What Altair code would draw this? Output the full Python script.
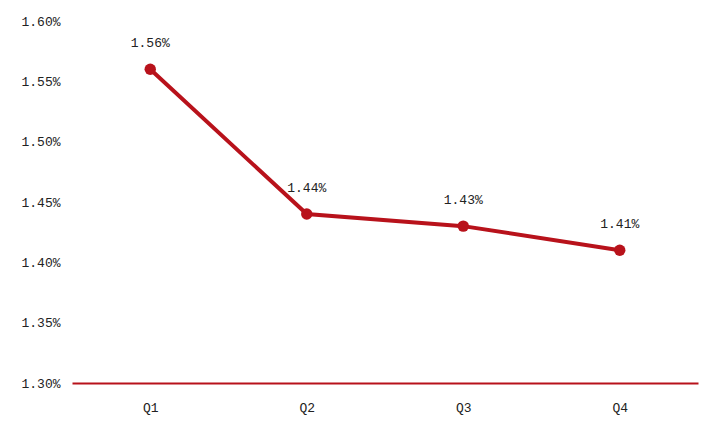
import altair as alt
import pandas as pd

quarters = ["Q1", "Q2", "Q3", "Q4"]
values = [1.56, 1.44, 1.43, 1.41]
labels = ["1.56%", "1.44%", "1.43%", "1.41%"]

df = pd.DataFrame({"q": quarters, "v": values, "label": labels})

RED = "#B8121B"
FONT = "Liberation Mono"

x = alt.X("q:N", sort=quarters, title=None,
          scale=alt.Scale(paddingInner=0, paddingOuter=0),
          axis=alt.Axis(labelAngle=0, ticks=False, domainColor=RED, domainWidth=2,
                        labelPadding=18, labelFont=FONT, labelFontSize=13, labelColor="#222"))
y = alt.Y("v:Q", title=None,
          scale=alt.Scale(domain=[1.30, 1.60], nice=False, zero=False),
          axis=alt.Axis(values=[1.30, 1.35, 1.40, 1.45, 1.50, 1.55, 1.60],
                        labelExpr="format(datum.value, '.2f') + '%'",
                        grid=False, ticks=False, domain=False, labelPadding=12,
                        labelFont=FONT, labelFontSize=13, labelColor="#222"))

base = alt.Chart(df).encode(x=x, y=y)
line = base.mark_line(color=RED, strokeWidth=4)
pts = base.mark_point(filled=True, color=RED, size=130, opacity=1)
txt = base.mark_text(dy=-26, font=FONT, fontSize=13, color="#222").encode(text="label:N")

chart = (line + pts + txt).properties(
    width=626, height=362, padding={"left": 12, "top": 7, "right": 4, "bottom": 5}
).configure_view(stroke=None)

chart.save("out.html", embed_options={"renderer": "svg", "actions": False})
